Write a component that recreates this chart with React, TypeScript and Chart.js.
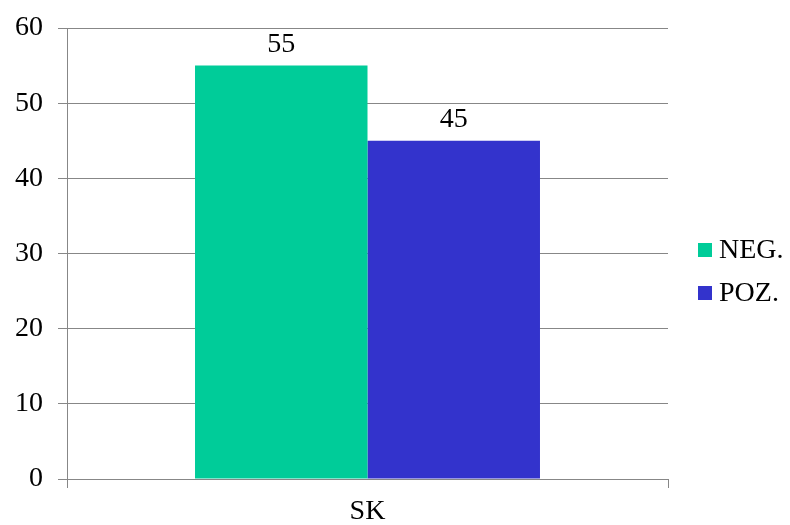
import React, { useEffect, useRef } from "react";
import { Chart, registerables } from "chart.js";

Chart.register(...registerables);

const categories = ["SK"];
const seriesNames = ["NEG.", "POZ."];
const negValues = [55];
const pozValues = [45];
const seriesColors = ["#00CC99", "#3333CC"];
const yTicks = [0, 10, 20, 30, 40, 50, 60];

const FONT = "'Liberation Serif', 'Times New Roman', serif";
const GRID = "#878787";

// Values written above each bar
const valueLabels = {
  id: "valueLabels",
  afterDatasetsDraw(chart: any) {
    const ctx = chart.ctx;
    ctx.save();
    ctx.font = `28px ${FONT}`;
    ctx.fillStyle = "#000";
    ctx.textAlign = "center";
    ctx.textBaseline = "alphabetic";
    chart.data.datasets.forEach((ds: any, di: number) => {
      const meta = chart.getDatasetMeta(di);
      meta.data.forEach((bar: any, i: number) => {
        ctx.fillText(String(ds.data[i]), bar.x, bar.y - 14);
      });
    });
    ctx.restore();
  },
};

// Legend to the right of the plot
const sideLegend = {
  id: "sideLegend",
  afterDraw(chart: any) {
    const ctx = chart.ctx;
    const area = chart.chartArea;
    const x = area.right + 30;
    const rows = [250, 293];
    const box = 14;
    ctx.save();
    ctx.font = `28px ${FONT}`;
    ctx.textBaseline = "middle";
    ctx.textAlign = "left";
    chart.data.datasets.forEach((ds: any, i: number) => {
      const y = rows[i];
      ctx.fillStyle = ds.backgroundColor;
      ctx.fillRect(x, y - box / 2, box, box);
      ctx.fillStyle = "#000";
      ctx.fillText(ds.label, x + box + 7, y + 1);
    });
    ctx.restore();
  },
};

export default function App() {
  const ref = useRef<HTMLCanvasElement>(null);

  useEffect(() => {
    if (!ref.current) return;
    const chart = new Chart(ref.current, {
      type: "bar",
      data: {
        labels: categories,
        datasets: [
          { label: seriesNames[0], data: negValues, backgroundColor: seriesColors[0] },
          { label: seriesNames[1], data: pozValues, backgroundColor: seriesColors[1] },
        ],
      },
      options: {
        animation: false,
        responsive: false,
        maintainAspectRatio: false,
        layout: { padding: { top: 28, right: 122, bottom: 0, left: 0 } },
        datasets: {
          bar: { categoryPercentage: 0.574, barPercentage: 1, borderWidth: 0 },
        },
        plugins: {
          legend: { display: false },
          tooltip: { enabled: false },
        },
        scales: {
          x: {
            grid: {
              display: true,
              drawOnChartArea: false,
              drawTicks: true,
              tickLength: 9,
              color: GRID,
              offset: true,
            },
            border: { display: true, color: GRID },
            ticks: {
              color: "#000",
              font: { family: FONT, size: 28 },
              padding: 7,
            },
            afterFit(scale: any) {
              scale.height = 46;
              scale.paddingLeft = 0;
              scale.paddingRight = 0;
            },
          },
          y: {
            min: 0,
            max: 60,
            afterBuildTicks(scale: any) {
              scale.ticks = yTicks.map((v) => ({ value: v }));
            },
            grid: {
              color: GRID,
              drawTicks: true,
              tickLength: 9,
            },
            border: { display: true, color: GRID },
            ticks: {
              color: "#000",
              font: { family: FONT, size: 28 },
              padding: 15,
            },
            afterFit(scale: any) {
              scale.width = 67;
              scale.paddingTop = 0;
              scale.paddingBottom = 0;
            },
          },
        },
      },
      plugins: [valueLabels, sideLegend],
    });
    return () => chart.destroy();
  }, []);

  return (
    <div style={{ position: "absolute", left: 0, top: 0, width: 790, height: 525, background: "#fff" }}>
      <canvas ref={ref} width={790} height={525} />
    </div>
  );
}
